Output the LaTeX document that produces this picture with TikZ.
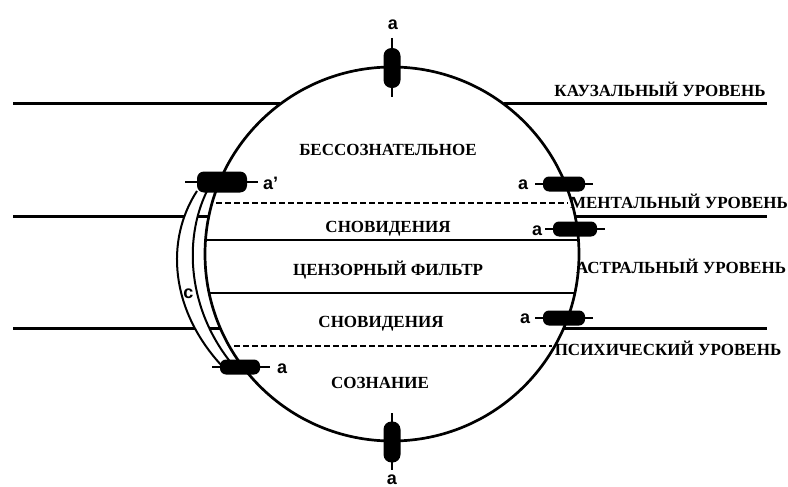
\documentclass[tikz,border=0pt]{standalone}
\usepackage{fontspec}
\setmainfont{Liberation Serif}
\newfontfamily\afont{Liberation Sans}
\begin{document}
\begin{tikzpicture}[x=1pt,y=-1pt,
  lvl/.style={line width=3pt},
  innerline/.style={line width=1.8pt},
  dashline/.style={line width=1.8pt, dash pattern=on 6pt off 3pt},
  curve/.style={line width=2pt},
  txt/.style={font=\fontsize{17}{17}\selectfont\bfseries, inner sep=0pt, anchor=base},
  lab/.style={font=\afont\bfseries\fontsize{18}{18}\selectfont, inner sep=0pt},
  hbox/.style={fill=black, rounded corners=6pt, minimum width=42pt, minimum height=15pt, inner sep=0pt},
  vbox/.style={fill=black, rounded corners=8pt, minimum width=17pt, minimum height=40pt, inner sep=0pt},
  lead/.style={line width=2pt}
]
\useasboundingbox (0,0) rectangle (788,487);
\fill[white] (0,0) rectangle (788,487);

% sphere
\node[circle, draw, line width=2.7pt, minimum size=374pt, inner sep=0pt, outer sep=0pt] (sph) at (392,254) {};

% level lines
\coordinate (L1a) at (13,104);  \coordinate (L1b) at (280.3,104);
\coordinate (L1c) at (503.7,104); \coordinate (L1d) at (767,104);
\coordinate (L2a) at (13,216);  \coordinate (L2b) at (208.9,216);
\coordinate (L2c) at (575.1,216); \coordinate (L2d) at (767,216);
\coordinate (L3a) at (13,328);  \coordinate (L3b) at (220.3,328);
\coordinate (L3c) at (563.7,328); \coordinate (L3d) at (767,328);
\draw[lvl] (L1a) -- (L1b);
\draw[lvl] (L1c) -- (L1d);
\draw[lvl] (L2a) -- (L2b);
\draw[lvl] (L2c) -- (L2d);
\draw[lvl] (L3a) -- (L3b);
\draw[lvl] (L3c) -- (L3d);

% inner lines
\coordinate (I1a) at (205.5,240); \coordinate (I1b) at (578.5,240);
\coordinate (I2a) at (209.1,293); \coordinate (I2b) at (574.9,293);
\draw[innerline] (I1a) -- (I1b);
\draw[innerline] (I2a) -- (I2b);
\coordinate (D1a) at (216,203); \coordinate (D1b) at (568,203);
\coordinate (D2a) at (234,346); \coordinate (D2b) at (552,346);
\draw[dashline] (D1a) -- (D1b);
\draw[dashline] (D2a) -- (D2b);

% channel c
\coordinate (co1) at (197,191); \coordinate (co2) at (222,366);
\coordinate (cm1) at (207,191); \coordinate (cm2) at (232,364);
\fill[white] (co1) .. controls (165,240) and (170,310) .. (co2) -- (cm2) .. controls (188,310) and (183,240) .. (cm1) -- cycle;
\draw[curve] (co1) .. controls (165,240) and (170,310) .. (co2);
\draw[curve] (cm1) .. controls (183,240) and (188,310) .. (cm2);
\node[lab, anchor=base] (lc) at (188.5,298) {c};

% elements
\coordinate (t1) at (392,38); \coordinate (t2) at (392,97);
\draw[lead] (t1) -- (t2);
\node[vbox] (aT) at (392,68) {};
\node[lab, anchor=base] (laT) at (393,30) {a};

\coordinate (b1) at (392,413); \coordinate (b2) at (392,470);
\draw[lead] (b1) -- (b2);
\node[vbox, minimum height=41pt] (aB) at (392,442) {};
\node[lab, anchor=base] (laB) at (392,484) {a};

\coordinate (p1) at (185,182); \coordinate (p2) at (258,182);
\draw[lead] (p1) -- (p2);
\node[hbox, minimum width=50pt, minimum height=21pt, rounded corners=7pt] (aP) at (222,182) {};
\node[lab, anchor=base west] (laP) at (263,189) {a’};

\coordinate (q1) at (212,367); \coordinate (q2) at (270,367);
\draw[lead] (q1) -- (q2);
\node[hbox, minimum width=40pt] (aQ) at (240,367) {};
\node[lab, anchor=base west] (laQ) at (277,373) {a};

\coordinate (r1) at (535,184); \coordinate (r2) at (593,184);
\draw[lead] (r1) -- (r2);
\node[hbox] (aR1) at (564,184) {};
\node[lab, anchor=base west] (laR1) at (518,189) {a};

\coordinate (s1) at (545,229); \coordinate (s2) at (605,229);
\draw[lead] (s1) -- (s2);
\node[hbox, minimum width=44pt] (aR2) at (575,229) {};
\node[lab, anchor=base west] (laR2) at (532,235) {a};

\coordinate (u1) at (535,318); \coordinate (u2) at (593,318);
\draw[lead] (u1) -- (u2);
\node[hbox] (aR3) at (564,318) {};
\node[lab, anchor=base west] (laR3) at (520,323) {a};

% texts
\node[txt] (t_bs) at (388,155) {БЕССОЗНАТЕЛЬНОЕ};
\node[txt] (t_sn1) at (388,232) {СНОВИДЕНИЯ};
\node[txt] (t_cf) at (388,275) {ЦЕНЗОРНЫЙ ФИЛЬТР};
\node[txt] (t_sn2) at (381,327) {СНОВИДЕНИЯ};
\node[txt] (t_soz) at (380,388) {СОЗНАНИЕ};
\node[txt] (t_k) at (660,97) {КАУЗАЛЬНЫЙ УРОВЕНЬ};
\node[txt] (t_m) at (679,208) {МЕНТАЛЬНЫЙ УРОВЕНЬ};
\node[txt] (t_a) at (681,273) {АСТРАЛЬНЫЙ УРОВЕНЬ};
\node[txt] (t_p) at (668,355) {ПСИХИЧЕСКИЙ УРОВЕНЬ};
\end{tikzpicture}
\end{document}
